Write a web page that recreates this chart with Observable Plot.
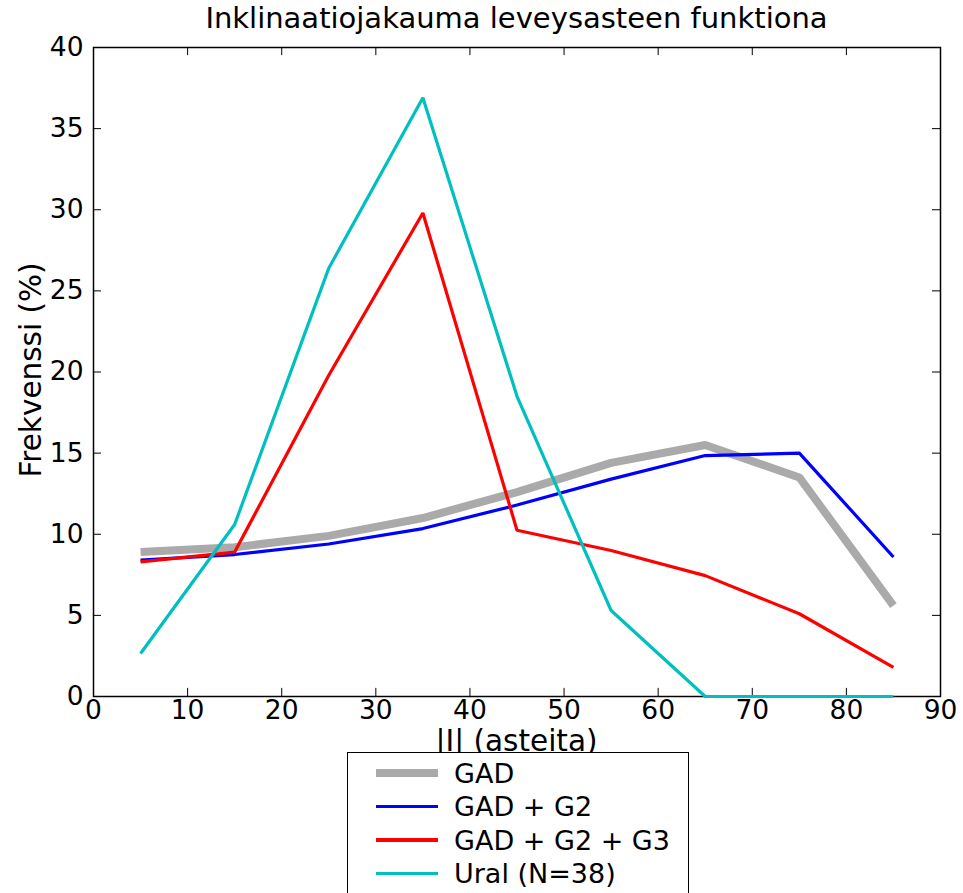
<!DOCTYPE html>
<html>
<head>
<meta charset="utf-8">
<script src="https://cdn.jsdelivr.net/npm/d3@7"></script>
<script src="https://cdn.jsdelivr.net/npm/@observablehq/plot@0.6"></script>
<style>
  html, body { margin: 0; padding: 0; background: white; }
  #wrap { position: relative; width: 963px; height: 893px; overflow: hidden; font-family: "DejaVu Sans", sans-serif; color: black; }
  #title { position: absolute; left: 0; width: 1033px; top: 1px; text-align: center; font-size: 29px; }
  #xlabel { position: absolute; left: 0; width: 1033px; top: 724px; text-align: center; font-size: 29.5px; }
  #ylabel { position: absolute; left: 31px; top: 370px; transform: translate(-50%, -50%) rotate(-90deg); font-size: 29.5px; white-space: nowrap; }
  #legend { position: absolute; left: 347px; top: 752px; width: 340px; height: 170px; border: 1.5px solid black; background: white; }
  .row { position: absolute; left: 0; height: 34px; display: flex; align-items: center; font-size: 27px; white-space: nowrap; }
  .swatch { width: 62px; margin-left: 28px; margin-right: 16px; }
  #chart { position: absolute; left: 0; top: 0; }
</style>
</head>
<body>
<div id="wrap">
  <div id="chart"></div>
  <div id="title"></div>
  <div id="ylabel"></div>
  <div id="xlabel"></div>
  <div id="legend"></div>
</div>
<script>
const titleText = "Inklinaatiojakauma leveysasteen funktiona";
const xLabelText = "|I| (asteita)";
const yLabelText = "Frekvenssi (%)";

const latitudes = [5, 15, 25, 35, 45, 55, 65, 75, 85];
const gad   = [8.9, 9.2, 9.9, 11.0, 12.6, 14.4, 15.5, 13.5, 5.6];
const gadG2 = [8.4, 8.75, 9.4, 10.35, 11.8, 13.4, 14.85, 15.0, 8.6];
const gadG2G3 = [8.3, 8.9, 19.8, 29.8, 10.25, 9.0, 7.45, 5.1, 1.8];
const ural  = [2.65, 10.6, 26.4, 36.9, 18.5, 5.3, 0, 0, 0];

const seriesNames = ["GAD", "GAD + G2", "GAD + G2 + G3", "Ural (N=38)"];
const seriesValues = [gad, gadG2, gadG2G3, ural];
const seriesColors = ["#aaaaaa", "#0000ff", "#ff0000", "#00bfbf"];
const seriesWidths = [8, 3.2, 3.2, 3.2];

const xTicks = [0, 10, 20, 30, 40, 50, 60, 70, 80, 90];
const yTicks = [0, 5, 10, 15, 20, 25, 30, 35, 40];

document.getElementById("title").textContent = titleText;
document.getElementById("xlabel").textContent = xLabelText;
document.getElementById("ylabel").textContent = yLabelText;

const lineMarks = seriesValues.map((vals, i) =>
  Plot.line(latitudes.map((x, j) => ({x, y: vals[j]})), {
    x: "x", y: "y", stroke: seriesColors[i], strokeWidth: seriesWidths[i],
    strokeLinejoin: "miter", strokeLinecap: "butt", clip: false
  })
);

const chart = Plot.plot({
  width: 963,
  height: 893,
  marginLeft: 93,
  marginRight: 23,
  marginTop: 47,
  marginBottom: 197,
  x: {domain: [0, 90]},
  y: {domain: [0, 40]},
  style: {fontFamily: "DejaVu Sans", fontSize: "26px", color: "black", background: "white", overflow: "visible"},
  marks: [
    Plot.frame({stroke: "black", strokeWidth: 1.5}),
    Plot.ruleX(xTicks, {x: d => d, y1: 0, y2: 0.5, stroke: "black", strokeWidth: 1}),
    Plot.ruleX(xTicks, {x: d => d, y1: 40, y2: 39.5, stroke: "black", strokeWidth: 1}),
    Plot.ruleY(yTicks, {y: d => d, x1: 0, x2: 0.85, stroke: "black", strokeWidth: 1}),
    Plot.ruleY(yTicks, {y: d => d, x1: 90, x2: 89.15, stroke: "black", strokeWidth: 1}),
    Plot.axisX({ticks: xTicks, tickSize: 0, tickPadding: 4, label: null, tickFormat: d => String(d), fontSize: 26.5}),
    Plot.axisY({ticks: yTicks, tickSize: 0, tickPadding: 10, label: null, tickFormat: d => String(d), fontSize: 26.5}),
    ...lineMarks
  ]
});
document.getElementById("chart").appendChild(chart);

const legend = document.getElementById("legend");
seriesNames.forEach((name, i) => {
  const row = document.createElement("div");
  row.className = "row";
  row.style.top = (3 + i * 33.5) + "px";
  const sw = document.createElement("div");
  sw.className = "swatch";
  sw.style.height = seriesWidths[i] + "px";
  sw.style.background = seriesColors[i];
  const t = document.createElement("span");
  t.textContent = name;
  row.appendChild(sw);
  row.appendChild(t);
  legend.appendChild(row);
});
</script>
</body>
</html>
